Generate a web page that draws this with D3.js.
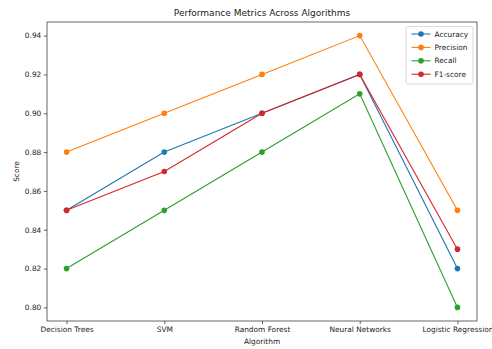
<!DOCTYPE html>
<html>
<head>
<meta charset="utf-8">
<script src="https://cdn.jsdelivr.net/npm/d3@7"></script>
<style>
  html, body { margin: 0; padding: 0; background: #fff; }
  svg { display: block; font-family: "DejaVu Sans", sans-serif; }
</style>
</head>
<body>
<svg id="chart" width="492" height="349"></svg>
<script>
const categories = ["Decision Trees", "SVM", "Random Forest", "Neural Networks", "Logistic Regression"];
const accuracy  = [0.85, 0.88, 0.90, 0.92, 0.82];
const precision = [0.88, 0.90, 0.92, 0.94, 0.85];
const recall    = [0.82, 0.85, 0.88, 0.91, 0.80];
const f1score   = [0.85, 0.87, 0.90, 0.92, 0.83];
const yTicks = [0.80, 0.82, 0.84, 0.86, 0.88, 0.90, 0.92, 0.94];
const seriesNames = ["Accuracy", "Precision", "Recall", "F1-score"];
const seriesColors = ["#1f77b4", "#ff7f0e", "#2ca02c", "#d62728"];
const seriesValues = [accuracy, precision, recall, f1score];

const svg = d3.select("#chart");
const L = 47, R = 477, T = 22, B = 321;
const fs = 7.4;

const x = d3.scaleLinear().domain([-0.2, categories.length - 1 + 0.2]).range([L, R]);
const allVals = seriesValues.flat();
const ymin = d3.min(allVals), ymax = d3.max(allVals), pad = (ymax - ymin) * 0.05;
const y = d3.scaleLinear().domain([ymin - pad, ymax + pad]).range([B, T]);

// X axis
const xAxis = d3.axisBottom(x).tickValues(d3.range(categories.length))
  .tickFormat(i => categories[i]).tickSize(3.2).tickPadding(2.5);
const gx = svg.append("g").attr("transform", `translate(0,${B})`).call(xAxis);
gx.select(".domain").remove();
gx.selectAll("line").attr("stroke", "#000").attr("stroke-width", 0.6);
gx.selectAll("text").attr("font-size", fs).attr("fill", "#222").attr("font-family", "DejaVu Sans");

// Y axis
const yAxis = d3.axisLeft(y).tickValues(yTicks).tickFormat(d3.format(".2f")).tickSize(3.2).tickPadding(2.5);
const gy = svg.append("g").attr("transform", `translate(${L},0)`).call(yAxis);
gy.select(".domain").remove();
gy.selectAll("line").attr("stroke", "#000").attr("stroke-width", 0.6);
gy.selectAll("text").attr("font-size", fs).attr("fill", "#222").attr("font-family", "DejaVu Sans");

// Lines
const line = d3.line().x((d, i) => x(i)).y(d => y(d));
seriesValues.forEach((vals, s) => {
  const g = svg.append("g");
  g.append("path").datum(vals).attr("d", line).attr("fill", "none")
    .attr("stroke", seriesColors[s]).attr("stroke-width", 1.1);
  g.selectAll("circle").data(vals).enter().append("circle")
    .attr("cx", (d, i) => x(i)).attr("cy", d => y(d)).attr("r", 2.8)
    .attr("fill", seriesColors[s]);
});

// Frame
svg.append("rect").attr("x", L).attr("y", T).attr("width", R - L).attr("height", B - T)
  .attr("fill", "none").attr("stroke", "#000").attr("stroke-width", 0.6);

// Title & labels
svg.append("text").attr("x", (L + R) / 2).attr("y", 16.3).attr("text-anchor", "middle")
  .attr("font-size", 9).attr("fill", "#222").text("Performance Metrics Across Algorithms");
svg.append("text").attr("x", (L + R) / 2).attr("y", 344).attr("text-anchor", "middle")
  .attr("font-size", fs).attr("fill", "#222").text("Algorithm");
svg.append("text").attr("transform", `translate(18.5,${(T + B) / 2}) rotate(-90)`)
  .attr("text-anchor", "middle").attr("font-size", fs).attr("fill", "#222").text("Score");

// Legend
const lg = svg.append("g");
lg.append("rect").attr("x", 406).attr("y", 26.5).attr("width", 67).attr("height", 57.5)
  .attr("rx", 2).attr("fill", "#fff").attr("fill-opacity", 0.8)
  .attr("stroke", "#ccc").attr("stroke-width", 0.7);
seriesNames.forEach((name, s) => {
  const yy = 34 + s * 13.4;
  lg.append("line").attr("x1", 411.5).attr("x2", 430.5).attr("y1", yy).attr("y2", yy)
    .attr("stroke", seriesColors[s]).attr("stroke-width", 1.1);
  lg.append("circle").attr("cx", 421).attr("cy", yy).attr("r", 2.8).attr("fill", seriesColors[s]);
  lg.append("text").attr("x", 434.5).attr("y", yy).attr("dy", "0.35em")
    .attr("font-size", fs).attr("fill", "#222").text(name);
});
</script>
</body>
</html>
